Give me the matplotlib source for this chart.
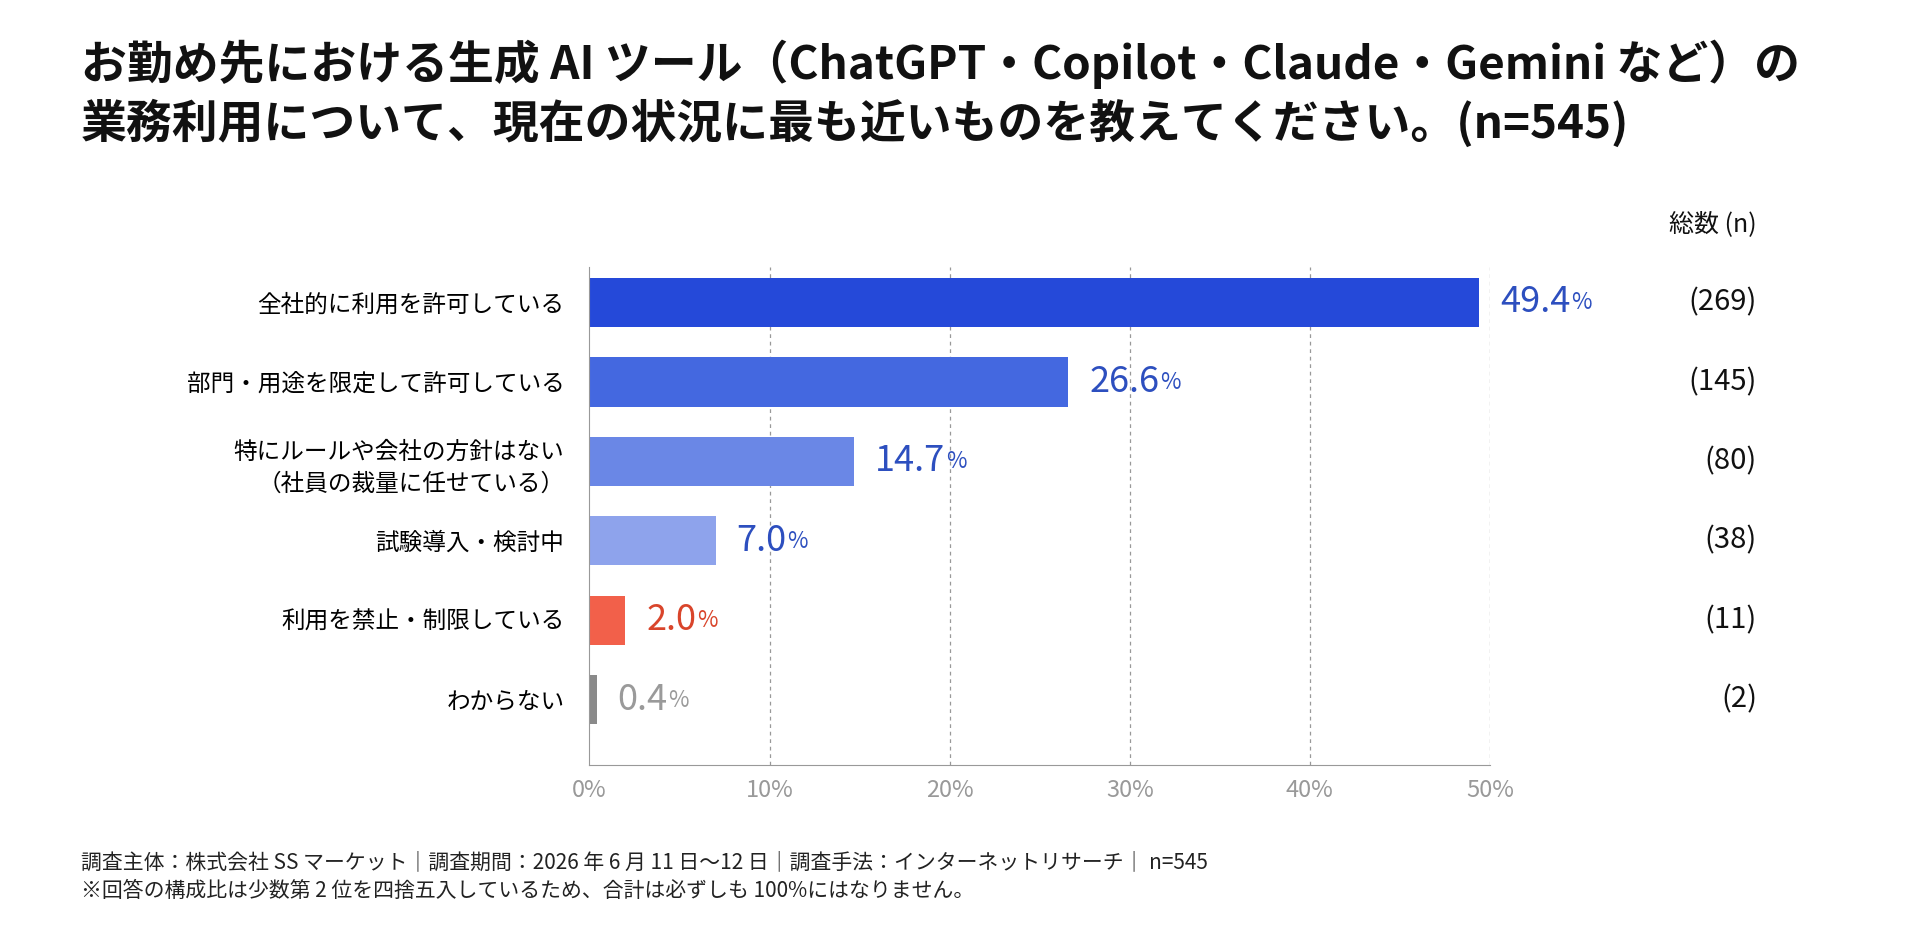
import matplotlib
matplotlib.use('agg')
from matplotlib import pyplot as plt
from matplotlib.transforms import blended_transform_factory
import numpy as np

plt.rcParams['font.family'] = ['Noto Sans CJK JP', 'DejaVu Sans']

categories = ['全社的に利用を許可している', '部門・用途を限定して許可している',
              '特にルールや会社の方針はない\n（社員の裁量に任せている）', '試験導入・検討中',
              '利用を禁止・制限している', 'わからない']
values = [49.4, 26.6, 14.7, 7.0, 2.0, 0.4]
counts = [269, 145, 80, 38, 11, 2]
bar_colors = ['#2549d9', '#4468e0', '#6a87e6', '#8ea3ec', '#f2604a', '#8a8a8a']
text_colors = ['#2d4fbf', '#2d4fbf', '#2d4fbf', '#2d4fbf', '#d9452b', '#9a9a9a']
ticks = [0, 10, 20, 30, 40, 50]

fig = plt.figure(figsize=(19.2, 9.36), dpi=100)
ax = fig.add_axes([0.307, 0.183, 0.469, 0.532])
y = np.arange(len(categories))
ax.barh(y, values, height=0.62, color=bar_colors)
ax.set_xlim(0, 50)
ax.set_ylim(5.82, -0.45)
ax.set_yticks(y)
ax.set_yticklabels(categories, fontsize=17, linespacing=1.5)
ax.tick_params(axis='y', length=0, pad=18)
ax.set_xticks(ticks)
ax.set_xticklabels([f'{t}%' for t in ticks], fontsize=17, color='#999999')
ax.tick_params(axis='x', length=0, pad=10)
for s in ['top', 'right']:
    ax.spines[s].set_visible(False)
for s in ['left', 'bottom']:
    ax.spines[s].set_color('#999999')
for t in ticks[1:]:
    ax.axvline(t, color='#999999', lw=0.9, ls=(0, (3, 3)), zorder=0)

fig.canvas.draw()
renderer = fig.canvas.get_renderer()
n_trans = blended_transform_factory(fig.transFigure, ax.transData)
for i, v in enumerate(values):
    t = ax.annotate(f'{v:.1f}', (v, i), xytext=(15, 0), textcoords='offset points',
                    fontsize=26, color=text_colors[i], va='center', ha='left')
    bb = t.get_window_extent(renderer)
    ax.annotate('%', (bb.x1 + 1, bb.y0 + 6), xycoords='figure pixels',
                fontsize=16, color=text_colors[i], va='bottom', ha='left')
    ax.text(1757 / 1920, i, f'({counts[i]})', transform=n_trans,
            fontsize=21, ha='right', va='center', color='#111111')

fig.text(1757 / 1920, 1 - 224 / 936, '総数 (n)', fontsize=18, ha='right', va='center', color='#111111')

fig.text(81 / 1920, 1 - 64 / 936,
         'お勤め先における生成 AI ツール（ChatGPT・Copilot・Claude・Gemini など）の',
         fontsize=33, fontweight='bold', ha='left', va='center', color='#111111')
fig.text(81 / 1920, 1 - 124 / 936,
         '業務利用について、現在の状況に最も近いものを教えてください。(n=545)',
         fontsize=33, fontweight='bold', ha='left', va='center', color='#111111')

fig.text(81 / 1920, 1 - 862 / 936,
         '調査主体：株式会社 SS マーケット｜調査期間：2026 年 6 月 11 日〜12 日｜調査手法：インターネットリサーチ｜ n=545',
         fontsize=15, ha='left', va='center', color='#222222')
fig.text(81 / 1920, 1 - 891 / 936,
         '※回答の構成比は少数第 2 位を四捨五入しているため、合計は必ずしも 100%にはなりません。',
         fontsize=15, ha='left', va='center', color='#222222')

fig.savefig('out.png', dpi=100)
